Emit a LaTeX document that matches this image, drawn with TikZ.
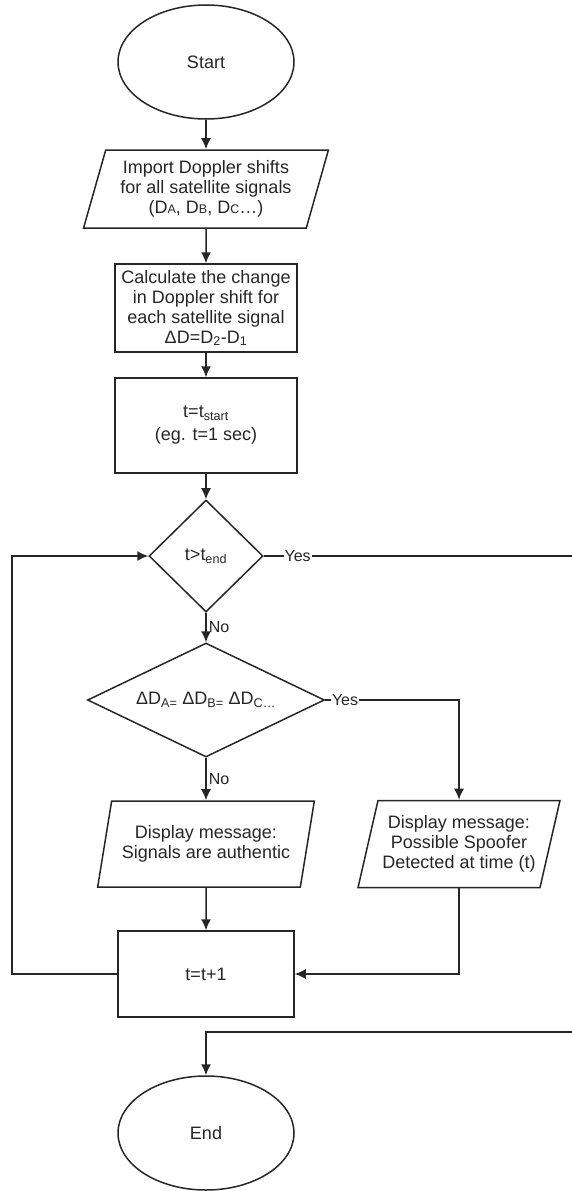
\documentclass[tikz,border=0pt]{standalone}
\usepackage{fontspec}
\setmainfont{Liberation Sans}
\usetikzlibrary{shapes.geometric,arrows.meta}
\newcommand{\lowcap}[1]{{\fontsize{12.5}{12}\selectfont #1}}

\begin{document}
\begin{tikzpicture}[x=1pt, y=-1pt, >={Latex[length=11pt,width=10pt]},
  line width=1.5pt, color=black!85,
  font=\fontsize{18}{20}\selectfont,
  term/.style={ellipse, draw, minimum width=176, minimum height=114, inner sep=1pt},
  io/.style={trapezium, trapezium left angle=72, trapezium right angle=108,
    trapezium stretches=true, draw, align=center, inner sep=1pt},
  proc/.style={rectangle, draw, align=center, minimum width=182, inner sep=1pt},
  cond/.style={diamond, draw, align=center, inner sep=0pt},
  lbl/.style={font=\fontsize{16}{16}\selectfont, inner sep=2pt}]

\useasboundingbox (0,0) rectangle (571,1191);

% Inicio
\node[term] (start) at (206,62) {Start};

% Leitura dos desvios Doppler
\node[io, minimum width=245, minimum height=78] (import) at (206,189)
  {Import Doppler shifts\\for all satellite signals\\(D\lowcap{A}, D\lowcap{B}, D\lowcap{C}\dots)};

% Variacao do Doppler
\node[proc, minimum height=88] (calc) at (206,308)
  {Calculate the change\\in Doppler shift for\\each satellite signal\\ΔD=D\textsubscript{2}-D\textsubscript{1}};

% Tempo inicial
\node[proc, minimum height=95] (init) at (206,425.5)
  {t=t\textsubscript{start}\\[3pt](eg. t=1 sec)};

% Testes
\node[cond, minimum width=114, minimum height=112] (test) at (206,556) {t>t\textsubscript{end}};
\node[cond, shape aspect=2.1, minimum width=237, minimum height=114] (ratio) at (206,700)
  {ΔD\textsubscript{A=} ΔD\textsubscript{B=} ΔD\textsubscript{C\dots}};

% Mensagens
\node[io, minimum width=217, minimum height=86] (auth) at (206,844)
  {Display message:\\Signals are authentic};
\node[io, minimum width=202, minimum height=87] (spoof) at (459,844)
  {Display message:\\Possible Spoofer\\Detected at time (t)};

% Incremento
\node[proc, minimum width=176, minimum height=86] (incr) at (206,974) {t=t+1};

% Fim
\node[term] (stop) at (206,1133) {End};

% Pontos de retorno
\coordinate (backl) at (12,974);
\coordinate (exitr) at (577,556);
\coordinate (entr) at (577,1032);

% Fluxo principal
\draw[->] (start) -- (import);
\draw[->] (import) -- (calc);
\draw[->] (calc) -- (init);
\draw[->] (init) -- (test);
\draw[->] (test) -- node[lbl, right, midway] {No} (ratio);
\draw[->] (ratio) -- node[lbl, right, midway] {No} (auth);
\draw[->] (ratio.east) -| node[lbl, fill=white, inner sep=1pt, pos=0.074] {Yes} (spoof.north);
\draw[->] (auth) -- (incr);
\draw[->] (spoof.south) |- (incr.east);

% Laco de volta
\draw[->] (incr.west) -- (backl) |- (test.west);

% Saida para o fim
\draw[->] (test.east) -- node[lbl, fill=white, inner sep=1pt, pos=0.108] {Yes} (exitr)
  -- (entr) -| (stop.north);

\end{tikzpicture}
\end{document}
